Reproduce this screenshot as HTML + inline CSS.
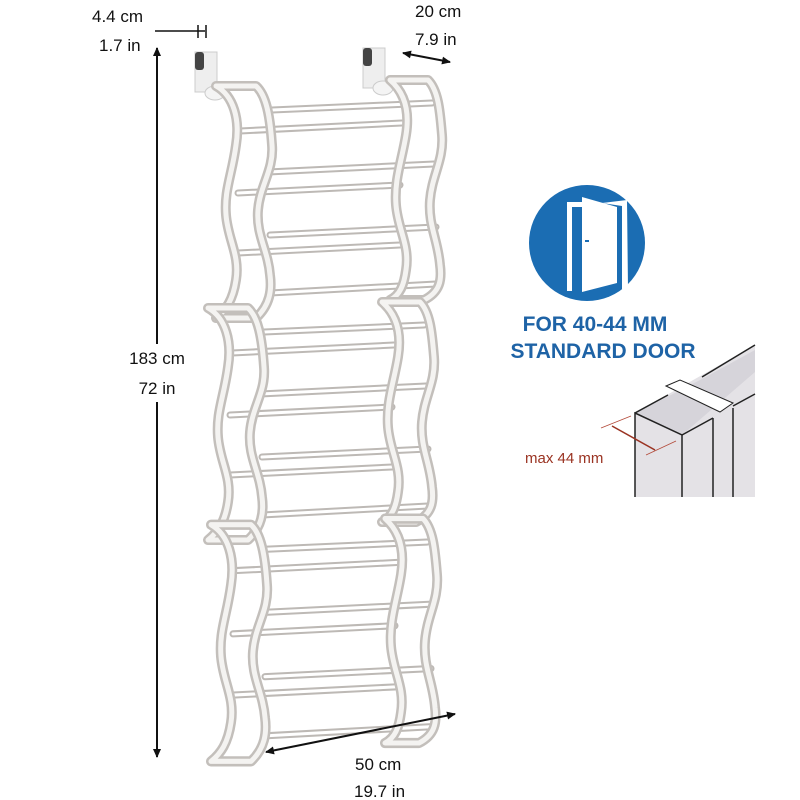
<!DOCTYPE html>
<html><head><meta charset="utf-8"><style>
body{margin:0;background:#fff}
svg{display:block}
text{font-family:"Liberation Sans",sans-serif}
</style></head><body>
<svg width="800" height="800" viewBox="0 0 800 800" xmlns="http://www.w3.org/2000/svg">
<defs>
<marker id="ah" markerWidth="10" markerHeight="10" refX="8" refY="5" orient="auto-start-reverse" markerUnits="userSpaceOnUse">
<path d="M0,1 L9,5 L0,9 Z" fill="#111"/></marker>
<path id="lp" d="M216,86 C234,96 240,120 236,145 C232,175 224,190 226,215 C228,240 240,255 236,280 C233,300 226,310 216,318 L256,318 C270,305 272,290 270,275 C268,250 256,235 258,210 C260,185 274,170 272,145 C270,115 266,95 256,86 Z"/>
<path id="rp" d="M390,80 C404,92 410,110 406,135 C402,160 394,180 396,205 C398,230 410,245 406,270 C404,285 400,295 390,300 L424,300 C440,292 442,280 440,265 C438,240 428,225 430,200 C432,175 444,160 442,135 C440,110 438,90 428,80 Z"/>
<g id="mod">
 <g stroke="#bdb9b5" stroke-width="7" stroke-linecap="round">
  <line x1="272" y1="110" x2="432" y2="103"/>
  <line x1="240" y1="131" x2="402" y2="123"/>
  <line x1="268" y1="172" x2="434" y2="164"/>
  <line x1="238" y1="193" x2="400" y2="185"/>
  <line x1="270" y1="235" x2="436" y2="227"/>
  <line x1="238" y1="253" x2="400" y2="245"/>
  <line x1="270" y1="293" x2="436" y2="284"/>
 </g>
 <g stroke="#fff" stroke-width="3" stroke-linecap="round">
  <line x1="272" y1="110" x2="432" y2="103"/>
  <line x1="240" y1="131" x2="402" y2="123"/>
  <line x1="268" y1="172" x2="434" y2="164"/>
  <line x1="238" y1="193" x2="400" y2="185"/>
  <line x1="270" y1="235" x2="436" y2="227"/>
  <line x1="238" y1="253" x2="400" y2="245"/>
  <line x1="270" y1="293" x2="436" y2="284"/>
 </g>
 <use href="#lp" fill="none" stroke="#c3bfbb" stroke-width="10" stroke-linejoin="round"/>
 <use href="#lp" fill="none" stroke="#f4f3f1" stroke-width="5" stroke-linejoin="round"/>
 <use href="#rp" fill="none" stroke="#c3bfbb" stroke-width="10" stroke-linejoin="round"/>
 <use href="#rp" fill="none" stroke="#f4f3f1" stroke-width="5" stroke-linejoin="round"/>
</g>
</defs>

<rect x="195" y="52" width="22" height="40" fill="#eee" stroke="#ccc"/>
<rect x="195" y="52" width="9" height="18" rx="3" fill="#444"/>
<ellipse cx="215" cy="93" rx="10" ry="7" fill="#f4f4f4" stroke="#ccc"/>
<rect x="363" y="48" width="22" height="40" fill="#eee" stroke="#ccc"/>
<rect x="363" y="48" width="9" height="18" rx="3" fill="#444"/>
<ellipse cx="383" cy="88" rx="10" ry="7" fill="#f4f4f4" stroke="#ccc"/>

<use href="#mod"/>
<use href="#mod" transform="translate(-8,222)"/>
<use href="#mod" transform="translate(-5,437) scale(1,1.02)"/>

<line x1="157" y1="48" x2="157" y2="757" stroke="#111" stroke-width="2" marker-start="url(#ah)" marker-end="url(#ah)"/>
<rect x="118" y="344" width="78" height="58" fill="#fff"/>
<text x="157" y="364" font-size="17" text-anchor="middle" fill="#111">183 cm</text>
<text x="157" y="394" font-size="17" text-anchor="middle" fill="#111">72 in</text>

<line x1="155" y1="31" x2="205" y2="31" stroke="#111" stroke-width="1.5"/>
<line x1="198" y1="25" x2="198" y2="38" stroke="#111" stroke-width="1.5"/>
<line x1="206" y1="25" x2="206" y2="38" stroke="#111" stroke-width="1.5"/>
<text x="92" y="22" font-size="17" fill="#111">4.4 cm</text>
<text x="99" y="51" font-size="17" fill="#111">1.7 in</text>

<text x="415" y="17" font-size="17" fill="#111">20 cm</text>
<text x="415" y="45" font-size="17" fill="#111">7.9 in</text>
<line x1="403" y1="53" x2="450" y2="62" stroke="#111" stroke-width="2" marker-start="url(#ah)" marker-end="url(#ah)"/>

<line x1="266" y1="752" x2="455" y2="714" stroke="#111" stroke-width="2" marker-start="url(#ah)" marker-end="url(#ah)"/>
<text x="355" y="770" font-size="17" fill="#111">50 cm</text>
<text x="354" y="797" font-size="17" fill="#111">19.7 in</text>

<circle cx="587" cy="243" r="58" fill="#1b6db3"/>
<path d="M583,202 L567,202 L567,291 L572,291 L572,207 L583,207 Z" fill="#fff"/>
<path d="M602,203 L627,200 L628,289 L622,289 L622,206 Z" fill="#fff"/>
<path d="M582,197 L617,207 L617,283 L582,292 Z" fill="#fff"/>
<line x1="585" y1="241" x2="589" y2="241" stroke="#1b6db3" stroke-width="2"/>
<text x="595" y="331" font-size="21" font-weight="bold" text-anchor="middle" fill="#1e63a6">FOR 40-44 MM</text>
<text x="603" y="358" font-size="21" font-weight="bold" text-anchor="middle" fill="#1e63a6">STANDARD DOOR</text>

<polygon points="635,413 755,345 755,497 635,497" fill="#e4e2e6"/>
<polygon points="635,413 667,397 702,379 755,350 755,372 682,435" fill="#d6d4da"/>
<polygon points="666,386 680,380 733,403 720,412" fill="#fff" stroke="#222" stroke-width="1"/>
<polyline points="635,497 635,413 682,435 682,497" fill="none" stroke="#222" stroke-width="1.5"/>
<line x1="635" y1="413" x2="668" y2="395" stroke="#222" stroke-width="1.5"/>
<line x1="702" y1="377" x2="755" y2="345" stroke="#222" stroke-width="1.5"/>
<line x1="682" y1="435" x2="713" y2="418" stroke="#222" stroke-width="1.5"/>
<line x1="733" y1="406" x2="755" y2="394" stroke="#222" stroke-width="1.5"/>
<line x1="713" y1="418" x2="713" y2="497" stroke="#222" stroke-width="1.5"/>
<line x1="733" y1="408" x2="733" y2="497" stroke="#222" stroke-width="1.5"/>
<line x1="601" y1="428" x2="631" y2="416" stroke="#b34a3a" stroke-width="0.8"/>
<line x1="646" y1="455" x2="676" y2="441" stroke="#b34a3a" stroke-width="0.8"/>
<line x1="612" y1="426" x2="655" y2="450" stroke="#9a3322" stroke-width="1.5"/>
<text x="525" y="463" font-size="15" fill="#9a3322">max 44 mm</text>
</svg>
</body></html>
